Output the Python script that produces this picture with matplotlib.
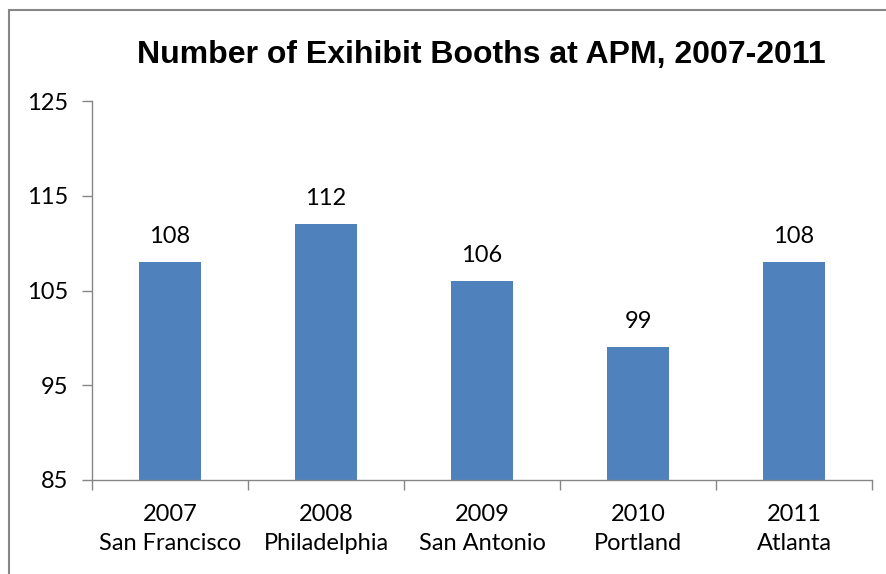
import matplotlib.pyplot as plt
from matplotlib.patches import Rectangle

# Daten
years = ['2007', '2008', '2009', '2010', '2011']
cities = ['San Francisco', 'Philadelphia', 'San Antonio', 'Portland', 'Atlanta']
booths = [108, 112, 106, 99, 108]

plt.rcParams['font.family'] = ['Lato', 'DejaVu Sans']

fig = plt.figure(figsize=(8.86, 5.74), dpi=100)
ax = fig.add_axes([92 / 886, 1 - 480 / 574, 780 / 886, 379 / 574])

# Rahmen um das Diagramm
fig.patches.append(Rectangle((9 / 886, -0.05), 1.2, 1 - 10 / 574 + 0.05,
                             transform=fig.transFigure, fill=False,
                             edgecolor='#868686', linewidth=1.5))

x = list(range(len(booths)))
bars = ax.bar(x, booths, width=0.4, color='#4F81BD')
for xi, v in zip(x, booths):
    ax.text(xi, v + 1.6, str(v), ha='center', va='bottom', fontsize=17)

ax.set_xlim(-0.5, len(booths) - 0.5)
ax.set_ylim(85, 125)
ax.set_yticks([85, 95, 105, 115, 125])
ax.set_xticks(x)
ax.set_xticklabels([f'{y}\n{c}' for y, c in zip(years, cities)],
                   fontsize=17, linespacing=1.5)
ax.set_xticks([i - 0.5 for i in range(len(booths) + 1)], minor=True)
ax.tick_params(axis='x', which='major', length=0, pad=17)
ax.tick_params(axis='x', which='minor', length=7, color='#868686', width=1)
ax.tick_params(axis='y', length=7, color='#868686', width=1, labelsize=17, pad=10)

for s in ['top', 'right']:
    ax.spines[s].set_visible(False)
for s in ['left', 'bottom']:
    ax.spines[s].set_color('#868686')
    ax.spines[s].set_linewidth(1)

fig.text(481 / 886, 1 - 55 / 574, 'Number of Exihibit Booths at APM, 2007-2011',
         ha='center', va='center', fontsize=23, fontweight='bold',
         family=['Liberation Sans', 'DejaVu Sans'])

fig.savefig('out.png', dpi=100)
